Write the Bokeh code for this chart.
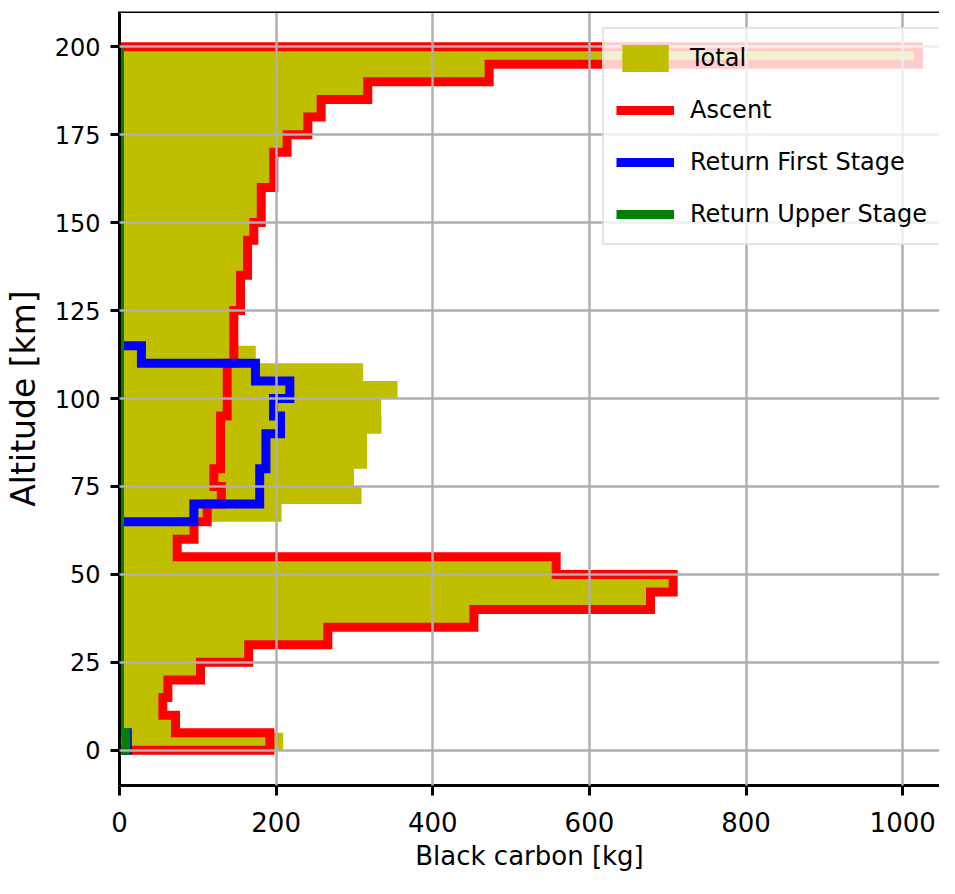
from bokeh.plotting import figure
from bokeh.models import Range1d, FixedTicker, Span
from bokeh.embed import file_html
from bokeh.resources import INLINE

# Altitude bin edges [km]
alt_edges = [0, 5, 10, 15, 20, 25, 30, 35, 40, 45, 50, 55, 60, 65, 70, 75, 80, 85, 90, 95,
             100, 105, 110, 115, 120, 125, 130, 135, 140, 145, 150, 155, 160, 165, 170, 175,
             180, 185, 190, 195, 200]

# Black carbon per 5 km bin [kg], lowest bin first
total = [209, 71.5, 55.4, 61.8, 103.4, 165, 266, 452.5, 678, 707,
         557.6, 73.7, 95.2, 207, 309, 299.5, 316, 316, 334.6, 334.2,
         355, 311, 174, 146, 146, 154.5, 154.5, 163.5, 163.5, 171.5,
         181, 181, 197, 197, 214, 240.5, 257.5, 317, 472, 1020]
ascent = [192, 71.5, 55.4, 61.8, 103.4, 165, 266, 452.5, 678, 707,
          557.6, 73.7, 95.2, 112, 130, 120.5, 129, 129, 129, 137.5,
          137.5, 137.5, 146, 146, 146, 154.5, 154.5, 163.5, 163.5, 171.5,
          181, 181, 197, 197, 214, 240.5, 257.5, 317, 472, 1020]
return_first = [10, 0, 0, 0, 0, 0, 0, 0, 0, 0,
                0, 0, 0, 95, 179, 179, 187, 187, 205.6, 196.7,
                217.5, 173.6, 28, 0, 0, 0, 0, 0, 0, 0,
                0, 0, 0, 0, 0, 0, 0, 0, 0, 0]
return_upper = [8, 0, 0, 0, 0, 0, 0, 0, 0, 0,
                0, 0, 0, 0, 0, 0, 0, 0, 0, 0,
                0, 0, 0, 0, 0, 0, 0, 0, 0, 0,
                0, 0, 0, 0, 0, 0, 0, 0, 0, 0]

x_ticks = [0, 200, 400, 600, 800, 1000]
y_ticks = [0, 25, 50, 75, 100, 125, 150, 175, 200]

FONT = "DejaVu Sans"


def stairs(values, edges):
    """Horizontal stairs outline with baseline at 0 (like matplotlib stairs)."""
    xs = [0.0]
    ys = [edges[0]]
    for i, v in enumerate(values):
        xs += [v, v]
        ys += [edges[i], edges[i + 1]]
    xs.append(0.0)
    ys.append(edges[-1])
    return xs, ys


p = figure(width=939, height=878, output_backend="svg", toolbar_location=None,
           x_range=Range1d(0, 1047), y_range=Range1d(-10, 210),
           min_border_left=119, min_border_right=0, min_border_top=11, min_border_bottom=93)
p.outline_line_color = None
p.background_fill_color = "white"

tx, ty = stairs(total, alt_edges)
p.patch(tx, ty, fill_color="#bfbf00", line_color=None, legend_label="Total")

for vals, col, name in [(ascent, "#ff0000", "Ascent"),
                        (return_first, "#0000ff", "Return First Stage"),
                        (return_upper, "#008000", "Return Upper Stage")]:
    sx, sy = stairs(vals, alt_edges)
    p.line(sx, sy, line_color=col, line_width=9, line_join="miter", line_cap="butt",
           legend_label=name)

# grid drawn on top of the data
for g in (p.xgrid, p.ygrid):
    g.grid_line_color = "#b0b0b0"
    g.grid_line_width = 2.5
    g.level = "guide"
p.xgrid.ticker = FixedTicker(ticks=x_ticks)
p.ygrid.ticker = FixedTicker(ticks=y_ticks)

# top spine
p.add_layout(Span(location=210, dimension="width", line_color="black", line_width=3))

xa = p.xaxis[0]
xa.ticker = FixedTicker(ticks=x_ticks)
xa.axis_label = "Black carbon [kg]"
xa.axis_line_width = 3
xa.axis_line_color = "black"
xa.major_tick_line_width = 3
xa.major_tick_in = 0
xa.major_tick_out = 10
xa.minor_tick_line_color = None
xa.major_label_text_font = FONT
xa.major_label_text_font_size = "26px"
xa.major_label_text_color = "black"
xa.major_label_standoff = 16
xa.axis_label_text_font = FONT
xa.axis_label_text_font_size = "26px"
xa.axis_label_text_font_style = "normal"
xa.axis_label_text_color = "black"
xa.axis_label_standoff = 6

ya = p.yaxis[0]
ya.ticker = FixedTicker(ticks=y_ticks)
ya.axis_label = "Altitude [km]"
ya.axis_line_width = 3
ya.axis_line_color = "black"
ya.major_tick_line_width = 3
ya.major_tick_in = 0
ya.major_tick_out = 9
ya.minor_tick_line_color = None
ya.major_label_text_font = FONT
ya.major_label_text_font_size = "24px"
ya.major_label_text_color = "black"
ya.major_label_standoff = 10
ya.axis_label_text_font = FONT
ya.axis_label_text_font_size = "33px"
ya.axis_label_text_font_style = "normal"
ya.axis_label_text_color = "black"
ya.axis_label_standoff = 9

lg = p.legend[0]
lg.location = (483, 540)
lg.padding = 12
lg.spacing = 18
lg.margin = 0
lg.glyph_width = 58
lg.glyph_height = 34
lg.label_standoff = 16
lg.label_text_font = FONT
lg.label_text_font_size = "24px"
lg.label_text_color = "black"
lg.border_line_color = "#cccccc"
lg.border_line_width = 2
lg.background_fill_color = "white"
lg.background_fill_alpha = 0.8

open("out.html", "w").write(file_html(p, INLINE))
